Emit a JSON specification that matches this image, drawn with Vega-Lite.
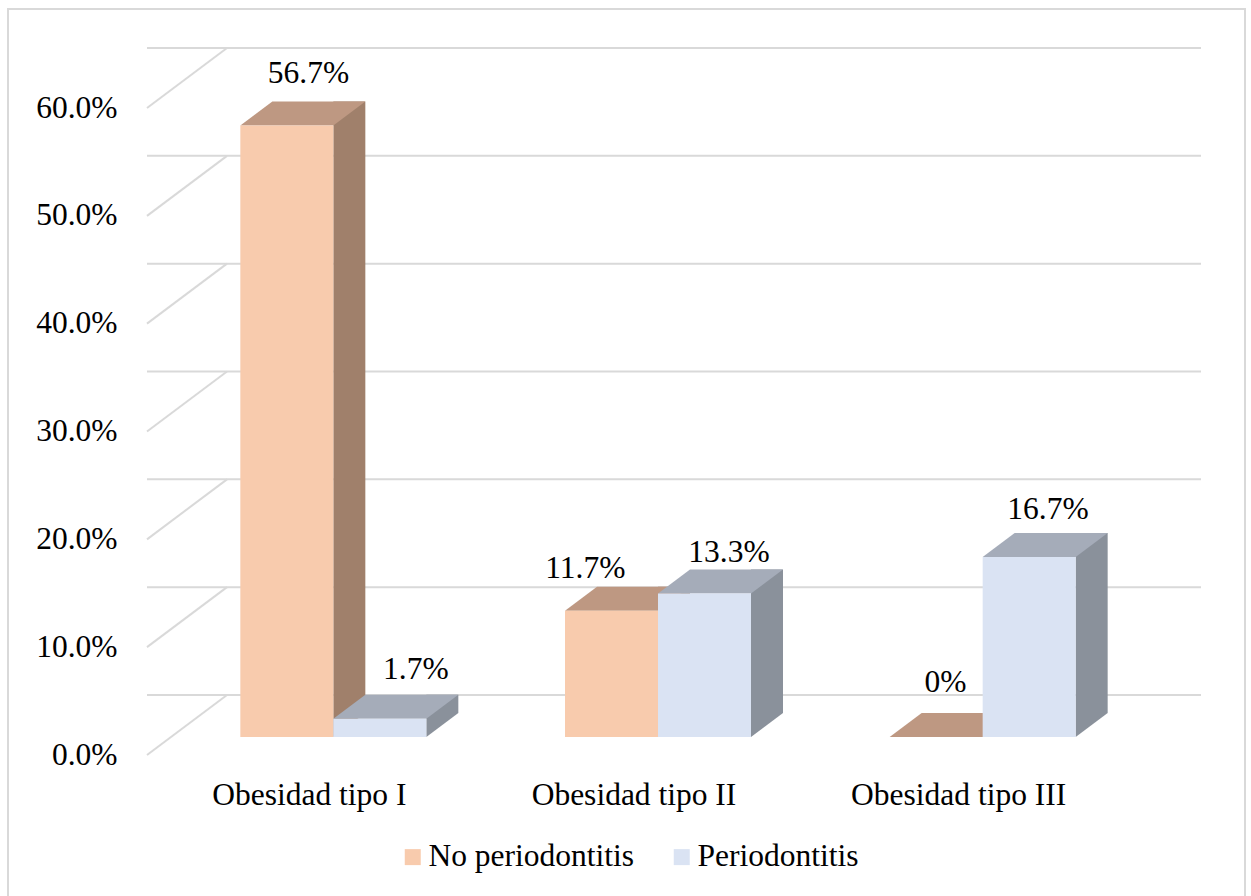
{
  "$schema": "https://vega.github.io/schema/vega-lite/v6.json",
  "width": 974,
  "height": 647,
  "autosize": {"type": "none"},
  "padding": {"left": 147, "top": 108, "right": 130, "bottom": 141},
  "background": "#FFFFFF",
  "config": {"view": {"stroke": null}, "font": "Liberation Serif, Times New Roman, serif"},
  "datasets": {
    "barras": [
      {"grupo": "Obesidad tipo I", "serie": "No periodontitis", "valor": 0.567},
      {"grupo": "Obesidad tipo I", "serie": "Periodontitis", "valor": 0.017},
      {"grupo": "Obesidad tipo II", "serie": "No periodontitis", "valor": 0.117},
      {"grupo": "Obesidad tipo II", "serie": "Periodontitis", "valor": 0.133},
      {"grupo": "Obesidad tipo III", "serie": "No periodontitis", "valor": 0.0},
      {"grupo": "Obesidad tipo III", "serie": "Periodontitis", "valor": 0.167}
    ],
    "marcas": [{"t": 0}, {"t": 0.1}, {"t": 0.2}, {"t": 0.3}, {"t": 0.4}, {"t": 0.5}, {"t": 0.6}]
  },
  "resolve": {"scale": {"x": "independent"}},
  "layer": [
    {
      "layer": [
        {
          "data": {"values": [{}]},
          "mark": {"type": "rect", "filled": false, "fill": null, "stroke": "#D9D9D9", "strokeWidth": 2, "xOffset": -139, "x2Offset": 124, "yOffset": -99, "y2Offset": 145},
          "encoding": {
            "x": {"datum": 0, "type": "quantitative", "scale": {"domain": [0, 1]}, "axis": null},
            "x2": {"datum": 1},
            "y": {"datum": 0.6, "type": "quantitative", "scale": {"domain": [0, 0.6]},
              "axis": {"title": null, "values": [0, 0.1, 0.2, 0.3, 0.4, 0.5, 0.6], "format": ".1%", "grid": false, "domain": false, "ticks": false, "tickSize": 0, "labelPadding": 30, "labelFont": "Liberation Serif, Times New Roman, serif", "labelFontSize": 31.5, "labelColor": "#000000", "labelFlush": false, "labelOverlap": false}},
            "y2": {"datum": 0}
          }
        },
        {
          "data": {"name": "marcas"},
          "mark": {"type": "rule", "color": "#D9D9D9", "strokeWidth": 2, "xOffset": 80, "yOffset": -60},
          "encoding": {
            "y": {"field": "t", "type": "quantitative", "scale": {"domain": [0, 0.6]},
              "axis": {"title": null, "values": [0, 0.1, 0.2, 0.3, 0.4, 0.5, 0.6], "format": ".1%", "grid": false, "domain": false, "ticks": false, "tickSize": 0, "labelPadding": 30, "labelFont": "Liberation Serif, Times New Roman, serif", "labelFontSize": 31.5, "labelColor": "#000000", "labelFlush": false, "labelOverlap": false}}
          }
        },
        {
          "data": {"name": "marcas"},
          "mark": {"type": "rule", "color": "#D9D9D9", "strokeWidth": 2, "x2Offset": 80, "y2Offset": -60},
          "encoding": {
            "x": {"datum": 0, "type": "quantitative", "scale": {"domain": [0, 1]}, "axis": null},
            "x2": {"datum": 0},
            "y": {"field": "t", "type": "quantitative", "scale": {"domain": [0, 0.6]},
              "axis": {"title": null, "values": [0, 0.1, 0.2, 0.3, 0.4, 0.5, 0.6], "format": ".1%", "grid": false, "domain": false, "ticks": false, "tickSize": 0, "labelPadding": 30, "labelFont": "Liberation Serif, Times New Roman, serif", "labelFontSize": 31.5, "labelColor": "#000000", "labelFlush": false, "labelOverlap": false}},
            "y2": {"field": "t"}
          }
        }
      ]
    },
    {
      "data": {"name": "barras"},
      "encoding": {
        "x": {"field": "grupo", "type": "nominal", "scale": {"paddingInner": 0, "paddingOuter": 0},
          "axis": {"title": null, "labelAngle": 0, "domain": false, "ticks": false, "tickSize": 0, "labelPadding": 24, "labelFont": "Liberation Serif, Times New Roman, serif", "labelFontSize": 31.5, "labelColor": "#000000", "labelLimit": 500, "labelOverlap": false, "labelFlush": false}},
        "y": {"field": "valor", "type": "quantitative", "stack": null, "scale": {"domain": [0, 0.6]},
          "axis": {"title": null, "values": [0, 0.1, 0.2, 0.3, 0.4, 0.5, 0.6], "format": ".1%", "grid": false, "domain": false, "ticks": false, "tickSize": 0, "labelPadding": 30, "labelFont": "Liberation Serif, Times New Roman, serif", "labelFontSize": 31.5, "labelColor": "#000000", "labelFlush": false, "labelOverlap": false}}
      },
      "layer": [
        {
          "transform": [{"filter": "datum.serie === 'No periodontitis'"}],
          "mark": {"type": "bar", "width": 32, "xOffset": 40, "yOffset": -42, "y2Offset": -42, "fill": "#A0806B", "opacity": 1},
          "encoding": {"y2": {"datum": 0}}
        },
        {
          "transform": [{"filter": "datum.serie === 'Periodontitis'"}],
          "mark": {"type": "bar", "width": 32, "xOffset": 133, "yOffset": -42, "y2Offset": -42, "fill": "#8A919B", "opacity": 1},
          "encoding": {"y2": {"datum": 0}}
        },
        {
          "transform": [{"filter": "datum.serie === 'No periodontitis'"}],
          "mark": {"type": "point", "shape": "M24,-42L56,-42L24,-18Z", "size": 4, "filled": true, "fill": "#A0806B", "opacity": 1, "strokeWidth": 0},
          "encoding": {
            "y": {"datum": 0, "type": "quantitative", "scale": {"domain": [0, 0.6]},
              "axis": {"title": null, "values": [0, 0.1, 0.2, 0.3, 0.4, 0.5, 0.6], "format": ".1%", "grid": false, "domain": false, "ticks": false, "tickSize": 0, "labelPadding": 30, "labelFont": "Liberation Serif, Times New Roman, serif", "labelFontSize": 31.5, "labelColor": "#000000", "labelFlush": false, "labelOverlap": false}}
          }
        },
        {
          "transform": [{"filter": "datum.serie === 'Periodontitis'"}],
          "mark": {"type": "point", "shape": "M117,-42L149,-42L117,-18Z", "size": 4, "filled": true, "fill": "#8A919B", "opacity": 1, "strokeWidth": 0},
          "encoding": {
            "y": {"datum": 0, "type": "quantitative", "scale": {"domain": [0, 0.6]},
              "axis": {"title": null, "values": [0, 0.1, 0.2, 0.3, 0.4, 0.5, 0.6], "format": ".1%", "grid": false, "domain": false, "ticks": false, "tickSize": 0, "labelPadding": 30, "labelFont": "Liberation Serif, Times New Roman, serif", "labelFontSize": 31.5, "labelColor": "#000000", "labelFlush": false, "labelOverlap": false}}
          }
        },
        {
          "transform": [{"filter": "datum.serie === 'No periodontitis'"}],
          "mark": {"type": "point", "shape": "M-69,-18L24,-18L56,-42L-37,-42Z", "size": 4, "filled": true, "fill": "#BE9882", "opacity": 1, "strokeWidth": 0}
        },
        {
          "transform": [{"filter": "datum.serie === 'Periodontitis'"}],
          "mark": {"type": "point", "shape": "M24,-18L117,-18L149,-42L56,-42Z", "size": 4, "filled": true, "fill": "#A5ACB9", "opacity": 1, "strokeWidth": 0}
        },
        {
          "transform": [{"filter": "datum.serie === 'No periodontitis'"}],
          "mark": {"type": "bar", "width": 93, "xOffset": -22.5, "yOffset": -18, "y2Offset": -18, "opacity": 1},
          "encoding": {
            "y2": {"datum": 0},
            "color": {"field": "serie", "type": "nominal",
              "scale": {"domain": ["No periodontitis", "Periodontitis"], "range": ["#F8CBAD", "#DAE3F3"]},
              "legend": {"orient": "none", "legendX": 250, "legendY": 733, "direction": "horizontal", "title": null, "symbolType": "square", "symbolSize": 256, "symbolStrokeWidth": 0, "labelFont": "Liberation Serif, Times New Roman, serif", "labelFontSize": 31.5, "labelColor": "#000000", "labelOffset": 0, "columnPadding": 31, "padding": 0, "labelLimit": 500}}
          }
        },
        {
          "transform": [{"filter": "datum.serie === 'Periodontitis'"}],
          "mark": {"type": "bar", "width": 93, "xOffset": 70.5, "yOffset": -18, "y2Offset": -18, "opacity": 1},
          "encoding": {
            "y2": {"datum": 0},
            "color": {"field": "serie", "type": "nominal",
              "scale": {"domain": ["No periodontitis", "Periodontitis"], "range": ["#F8CBAD", "#DAE3F3"]},
              "legend": {"orient": "none", "legendX": 250, "legendY": 733, "direction": "horizontal", "title": null, "symbolType": "square", "symbolSize": 256, "symbolStrokeWidth": 0, "labelFont": "Liberation Serif, Times New Roman, serif", "labelFontSize": 31.5, "labelColor": "#000000", "labelOffset": 0, "columnPadding": 31, "padding": 0, "labelLimit": 500}}
          }
        },
        {
          "transform": [{"filter": "datum.grupo === 'Obesidad tipo I' && datum.serie === 'No periodontitis'"}],
          "mark": {"type": "text", "dx": -0.8, "dy": -60.3, "baseline": "alphabetic", "align": "center", "font": "Liberation Serif, Times New Roman, serif", "fontSize": 31.5, "color": "#000000"},
          "encoding": {"text": {"field": "valor", "type": "quantitative", "format": ".1~%"}}
        },
        {
          "transform": [{"filter": "datum.grupo === 'Obesidad tipo I' && datum.serie === 'Periodontitis'"}],
          "mark": {"type": "text", "dx": 106.5, "dy": -57.4, "baseline": "alphabetic", "align": "center", "font": "Liberation Serif, Times New Roman, serif", "fontSize": 31.5, "color": "#000000"},
          "encoding": {"text": {"field": "valor", "type": "quantitative", "format": ".1~%"}}
        },
        {
          "transform": [{"filter": "datum.grupo === 'Obesidad tipo II' && datum.serie === 'No periodontitis'"}],
          "mark": {"type": "text", "dx": -48.7, "dy": -51.1, "baseline": "alphabetic", "align": "center", "font": "Liberation Serif, Times New Roman, serif", "fontSize": 31.5, "color": "#000000"},
          "encoding": {"text": {"field": "valor", "type": "quantitative", "format": ".1~%"}}
        },
        {
          "transform": [{"filter": "datum.grupo === 'Obesidad tipo II' && datum.serie === 'Periodontitis'"}],
          "mark": {"type": "text", "dx": 95, "dy": -49.9, "baseline": "alphabetic", "align": "center", "font": "Liberation Serif, Times New Roman, serif", "fontSize": 31.5, "color": "#000000"},
          "encoding": {"text": {"field": "valor", "type": "quantitative", "format": ".1~%"}}
        },
        {
          "transform": [{"filter": "datum.grupo === 'Obesidad tipo III' && datum.serie === 'No periodontitis'"}],
          "mark": {"type": "text", "dx": -13.2, "dy": -63.3, "baseline": "alphabetic", "align": "center", "font": "Liberation Serif, Times New Roman, serif", "fontSize": 31.5, "color": "#000000"},
          "encoding": {"text": {"field": "valor", "type": "quantitative", "format": ".1~%"}}
        },
        {
          "transform": [{"filter": "datum.grupo === 'Obesidad tipo III' && datum.serie === 'Periodontitis'"}],
          "mark": {"type": "text", "dx": 89.3, "dy": -55.6, "baseline": "alphabetic", "align": "center", "font": "Liberation Serif, Times New Roman, serif", "fontSize": 31.5, "color": "#000000"},
          "encoding": {"text": {"field": "valor", "type": "quantitative", "format": ".1~%"}}
        }
      ]
    }
  ]
}
